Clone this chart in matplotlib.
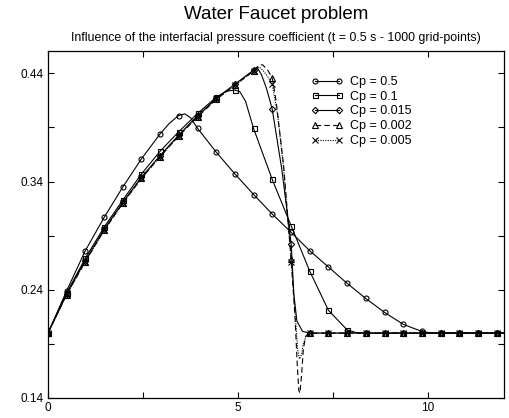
import numpy as np
import matplotlib
matplotlib.use('Agg')
import matplotlib.pyplot as plt
from matplotlib.ticker import FixedLocator

plt.rcParams['font.family'] = ['Liberation Sans', 'DejaVu Sans']

# x positions (m) where the symbols are drawn
mark_x = [0.00, 0.49, 0.98, 1.48, 1.97, 2.46, 2.95, 3.44, 3.94, 4.43, 4.92, 5.41,
          5.90, 6.40, 6.89, 7.38, 7.87, 8.36, 8.86, 9.35, 9.84, 10.33, 10.82,
          11.32, 11.81]

# Void fraction profiles at t = 0.5 s for each interfacial pressure coefficient
x_05 = [0.00, 0.49, 0.98, 1.48, 1.97, 2.46, 2.95, 3.20, 3.44, 3.60, 3.75, 3.94,
        4.43, 4.92, 5.41, 5.90, 6.40, 6.89, 7.38, 7.87, 8.36, 8.86, 9.35, 9.84,
        10.10, 10.33, 10.82, 11.32, 11.81, 12.00]
y_05 = [0.200, 0.239, 0.276, 0.307, 0.335, 0.361, 0.384, 0.394, 0.401, 0.4025, 0.399, 0.389,
        0.367, 0.347, 0.328, 0.310, 0.293, 0.276, 0.261, 0.246, 0.232, 0.219, 0.208, 0.2015,
        0.200, 0.200, 0.200, 0.200, 0.200, 0.200]

x_01 = [0.00, 0.49, 0.98, 1.48, 1.97, 2.46, 2.95, 3.44, 3.94, 4.43, 4.70, 4.92,
        5.05, 5.20, 5.41, 5.90, 6.40, 6.89, 7.38, 7.87, 8.10, 8.36, 8.86, 9.35,
        9.84, 10.33, 10.82, 11.32, 11.81, 12.00]
y_01 = [0.200, 0.237, 0.269, 0.298, 0.323, 0.347, 0.368, 0.386, 0.403, 0.418, 0.4235, 0.4245,
        0.423, 0.414, 0.389, 0.342, 0.299, 0.257, 0.221, 0.203, 0.2005, 0.200, 0.200, 0.200,
        0.200, 0.200, 0.200, 0.200, 0.200, 0.200]

x_0015 = [0.00, 0.49, 0.98, 1.48, 1.97, 2.46, 2.95, 3.44, 3.94, 4.43, 4.92, 5.41,
          5.50, 5.62, 5.75, 5.90, 6.15, 6.40, 6.47, 6.55, 6.70, 6.89, 7.38, 7.87,
          8.36, 8.86, 9.35, 9.84, 10.33, 10.82, 11.32, 11.81, 12.00]
y_0015 = [0.200, 0.236, 0.267, 0.296, 0.321, 0.344, 0.364, 0.383, 0.401, 0.417, 0.430, 0.443,
          0.4455, 0.4385, 0.426, 0.407, 0.352, 0.282, 0.236, 0.211, 0.2015, 0.200, 0.200, 0.200,
          0.200, 0.200, 0.200, 0.200, 0.200, 0.200, 0.200, 0.200, 0.200]

x_0002 = [0.00, 0.49, 0.98, 1.48, 1.97, 2.46, 2.95, 3.44, 3.94, 4.43, 4.92, 5.41,
          5.55, 5.65, 5.78, 5.90, 6.00, 6.20, 6.40, 6.50, 6.56, 6.60, 6.63, 6.67,
          6.72, 6.78, 6.89, 7.38, 7.87, 8.36, 8.86, 9.35, 9.84, 10.33, 10.82, 11.32,
          11.81, 12.00]
y_0002 = [0.200, 0.2355, 0.266, 0.295, 0.320, 0.343, 0.363, 0.382, 0.400, 0.416, 0.429, 0.442,
          0.4475, 0.4478, 0.443, 0.436, 0.415, 0.355, 0.268, 0.215, 0.170, 0.147, 0.1445, 0.160,
          0.185, 0.197, 0.200, 0.200, 0.200, 0.200, 0.200, 0.200, 0.200, 0.200, 0.200, 0.200,
          0.200, 0.200]

x_0005 = [0.00, 0.49, 0.98, 1.48, 1.97, 2.46, 2.95, 3.44, 3.94, 4.43, 4.92, 5.41,
          5.55, 5.65, 5.78, 5.90, 6.05, 6.20, 6.40, 6.50, 6.57, 6.62, 6.67, 6.72,
          6.80, 6.89, 7.38, 7.87, 8.36, 8.86, 9.35, 9.84, 10.33, 10.82, 11.32, 11.81,
          12.00]
y_0005 = [0.200, 0.2355, 0.266, 0.295, 0.320, 0.343, 0.363, 0.382, 0.400, 0.416, 0.429, 0.442,
          0.446, 0.443, 0.437, 0.430, 0.400, 0.352, 0.266, 0.220, 0.185, 0.176, 0.180, 0.190,
          0.198, 0.200, 0.200, 0.200, 0.200, 0.200, 0.200, 0.200, 0.200, 0.200, 0.200, 0.200,
          0.200]

labels = ['Cp = 0.5', 'Cp = 0.1', 'Cp = 0.015', 'Cp = 0.002', 'Cp = 0.005']
series = [(x_05, y_05), (x_01, y_01), (x_0015, y_0015), (x_0002, y_0002), (x_0005, y_0005)]
markers = ['o', 's', 'D', '^', 'x']
msizes = [3.6, 3.6, 3.2, 3.8, 4.2]
styles = ['-', '-', '-', (0, (5, 3)), (0, (1, 1.2))]

fig = plt.figure(figsize=(5.1, 4.18), dpi=100)
ax = fig.add_axes([48/510, 1 - 398/418, 456/510, 347/418])

for (xs, ys), lab, m, ms, ls in zip(series, labels, markers, msizes, styles):
    xs = np.asarray(xs)
    idx = [i for i, v in enumerate(xs) if np.any(np.isclose(v, mark_x))]
    ax.plot(xs, ys, color='black', lw=0.8, ls=ls, marker=m, markevery=idx,
            markersize=ms, markerfacecolor='none', markeredgecolor='black',
            markeredgewidth=0.8, label=lab)

ax.set_xlim(0, 12)
ax.set_ylim(0.14, 0.4606)
ax.xaxis.set_major_locator(FixedLocator([0, 5, 10]))
ax.xaxis.set_minor_locator(FixedLocator([2.5, 7.5]))
ax.yaxis.set_major_locator(FixedLocator([0.14, 0.24, 0.34, 0.44]))
ax.yaxis.set_minor_locator(FixedLocator([0.19, 0.29, 0.39]))
ax.set_yticklabels(['0.14', '0.24', '0.34', '0.44'])
ax.tick_params(which='both', direction='in', top=True, right=True, length=4,
               width=0.8, labelsize=8.5, pad=3)
for s in ax.spines.values():
    s.set_linewidth(0.9)

leg = ax.legend(loc='upper left', bbox_to_anchor=(0.578, 0.928), frameon=False,
                fontsize=9, numpoints=2, handlelength=2.5, handletextpad=0.6,
                labelspacing=0.22, borderaxespad=0, borderpad=0)

fig.text(0.541, 0.966, 'Water Faucet problem', ha='center', va='center', fontsize=13.5)
fig.text(0.541, 0.909, 'Influence of the interfacial pressure coefficient (t = 0.5 s - 1000 grid-points)',
         ha='center', va='center', fontsize=8.9)

fig.savefig('out.png', dpi=100)
